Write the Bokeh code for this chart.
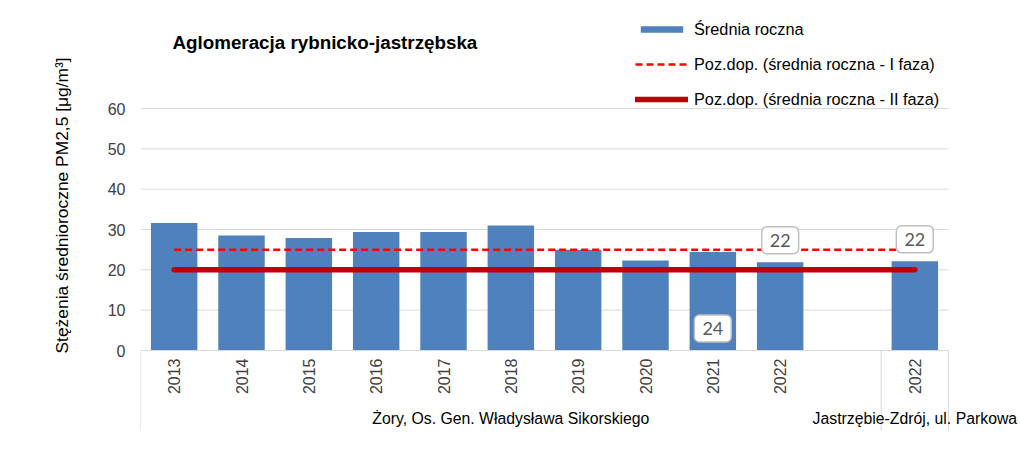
import math
from bokeh.plotting import figure
from bokeh.models import (Range1d, FixedTicker, Legend, LegendItem, Label, Title,
                          ColumnDataSource)
from bokeh.core.properties import value
from bokeh.embed import file_html
from bokeh.resources import INLINE

# ---------------- data ----------------
title_text = "Aglomeracja rybnicko-jastrzębska"
y_title = "Stężenia średnioroczne PM2,5 [μg/m³]"
stations = ["Żory, Os. Gen. Władysława Sikorskiego", "Jastrzębie-Zdrój, ul. Parkowa"]
zory_years = ["2013", "2014", "2015", "2016", "2017", "2018", "2019", "2020", "2021", "2022", ""]
zory_values = [31.6, 28.5, 27.9, 29.4, 29.4, 31.0, 25.0, 22.3, 24.4, 21.9, float("nan")]
jas_years = ["2022"]
jas_values = [22.1]
limit_I = 25
limit_II = 20
y_ticks = [0, 10, 20, 30, 40, 50, 60]
series_names = ["Średnia roczna", "Poz.dop. (średnia roczna - I faza)",
                "Poz.dop. (średnia roczna - II faza)"]
label_station = [0, 0, 1]
label_year = ["2021", "2022", "2022"]
label_texts = ["24", "22", "22"]
label_at_base = [True, False, False]

# ---------------- derived positions (slot indices) ----------------
years = zory_years + jas_years
values = zory_values + jas_values
n = len(years)
xs = list(range(n))
group_sizes = [len(zory_years), len(jas_years)]
group_start = [0, group_sizes[0]]
group_centers = [s + (g - 1) / 2 for s, g in zip(group_start, group_sizes)]
bounds = [-0.5] + [s + g - 0.5 for s, g in zip(group_start, group_sizes)]


def slot(st, yr):
    base = group_start[st]
    names = [zory_years, jas_years][st]
    return base + names.index(yr)


FONT = "Liberation Sans"
TXT = "#404040"
GRID = "#D9D9D9"

PX = (350 - 108) / 60.0          # pixels per data unit (style)
SLOT = (948 - 140) / 12.0        # pixels per slot (style)

W, H = 1018, 468
FL, FR, FT, FB = 140, 1018, 14, 440
x_end = (n - 0.5) + (FR - 948) / SLOT
y_end = 60 + (108 - FT) / PX
y_start = -(FB - 350) / PX

p = figure(width=W, height=H, output_backend="svg", toolbar_location=None,
           x_range=Range1d(-0.5, x_end), y_range=Range1d(y_start, y_end),
           min_border_left=FL, min_border_right=W - FR, min_border_top=FT,
           min_border_bottom=H - FB)
p.outline_line_color = None
p.background_fill_color = "white"
p.border_fill_color = "white"
p.xaxis.visible = False
p.xgrid.grid_line_color = None
p.ygrid.grid_line_color = None

# gridlines (at the y ticks, across the category slots only)
grid_src = ColumnDataSource(dict(y=y_ticks[1:], x0=[bounds[0]] * (len(y_ticks) - 1),
                                 x1=[bounds[-1]] * (len(y_ticks) - 1)))
p.segment("x0", "y", "x1", "y", source=grid_src, line_color=GRID, line_width=1)

bars = p.vbar(x=xs, top=values, width=0.69, fill_color="#4F81BD", line_color=None)

# category axis line and separators
p.segment(x0=[bounds[0]], y0=[0], x1=[bounds[-1]], y1=[0], line_color=GRID, line_width=1)
sep_len = (430 - 350) / PX
p.segment(x0=bounds, y0=[0] * len(bounds), x1=bounds, y1=[-sep_len] * len(bounds),
          line_color=GRID, line_width=1)

line_src = ColumnDataSource(dict(x=xs, y1=[limit_I] * n, y2=[limit_II] * n))
l1 = p.line("x", "y1", source=line_src, line_color="#FF0000", line_width=2.5, line_dash="7 4")
l2 = p.line("x", "y2", source=line_src, line_color="#C00000", line_width=5.5, line_cap="round")

# year labels (rotated)
yr_src = ColumnDataSource(dict(x=xs, t=years))
p.text("x", y=-(358 - 350) / PX, text="t", source=yr_src, angle=math.pi / 2,
       text_align="right", text_baseline="middle", text_font=value(FONT),
       text_font_size="16px", text_color=TXT)
# station (group) labels
st_src = ColumnDataSource(dict(x=group_centers, t=stations))
p.text("x", y=-(418 - 350) / PX, text="t", source=st_src, text_align="center",
       text_baseline="middle", text_font=value(FONT), text_font_size="15.8px",
       text_color="#000000")

# data labels
lab_x = [slot(s, y) for s, y in zip(label_station, label_year)]
lab_y = [0 if b else values[x] for x, b in zip(lab_x, label_at_base)]
lab_src = ColumnDataSource(dict(x=lab_x, y=lab_y, t=label_texts))
p.text("x", "y", text="t", source=lab_src, y_offset=-22, text_align="center",
       text_baseline="middle", text_font=value("Lato"), text_font_size="18px",
       text_color="#595959", background_fill_color="white", border_line_color="#BFBFBF",
       border_line_width=1.5, padding=(8, 7), border_radius=5)

# y axis
p.yaxis.ticker = FixedTicker(ticks=y_ticks)
p.yaxis.axis_line_color = None
p.yaxis.major_tick_line_color = None
p.yaxis.minor_tick_line_color = None
p.yaxis.major_tick_out = 0
p.yaxis.major_tick_in = 0
p.yaxis.major_label_text_font = FONT
p.yaxis.major_label_text_font_size = "16px"
p.yaxis.major_label_text_color = TXT
p.yaxis.major_label_standoff = 15

# y-axis title, in the left panel
yt = Title(text=y_title, align="left", offset=FB - 353, standoff=66,
           text_font=FONT, text_font_size="17.4px", text_font_style="normal",
           text_color="#000000")
p.add_layout(yt, "left")

# chart title
p.add_layout(Label(x=172 - FL, y=FB - 42, x_units="screen", y_units="screen", text=title_text,
                   text_font=FONT, text_font_size="18.8px", text_font_style="bold",
                   text_color="#000000", text_baseline="middle"))

legend = Legend(items=[LegendItem(label=series_names[0], renderers=[bars]),
                       LegendItem(label=series_names[1], renderers=[l1]),
                       LegendItem(label=series_names[2], renderers=[l2])],
                location=(635 - FL, FB - 109), padding=0, spacing=15, label_height=20,
                glyph_width=53, glyph_height=8, label_standoff=6,
                label_text_font=FONT, label_text_font_size="16.3px", label_text_color="#000000",
                border_line_color=None, background_fill_alpha=0, margin=0)
p.add_layout(legend)

open("out.html", "w").write(file_html(p, INLINE))
